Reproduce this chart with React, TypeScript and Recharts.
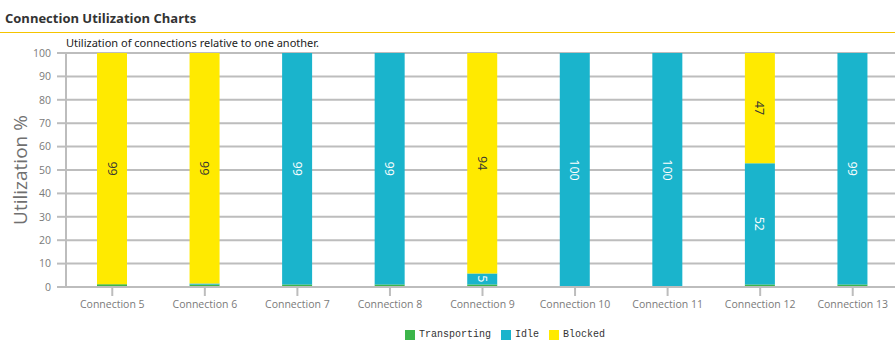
import { BarChart, Bar, XAxis, YAxis, CartesianGrid, LabelList } from "recharts";

const connections = [
  "Connection 5",
  "Connection 6",
  "Connection 7",
  "Connection 8",
  "Connection 9",
  "Connection 10",
  "Connection 11",
  "Connection 12",
  "Connection 13",
];
const transporting = [1.2, 1.0, 1.1, 1.1, 1.1, 0, 0, 1.1, 1.1];
const idle = [0, 0.5, 98.9, 98.9, 4.7, 100, 100, 51.8, 98.9];
const blocked = [98.8, 98.5, 0, 0, 94.2, 0, 0, 47.1, 0];
const yTicks = [0, 10, 20, 30, 40, 50, 60, 70, 80, 90, 100];

const data = connections.map((name, i) => ({
  name,
  transporting: transporting[i],
  idle: idle[i],
  blocked: blocked[i],
}));

const GREEN = "#3cb54a";
const TEAL = "#1ab4cc";
const YELLOW = "#ffea00";
const GRID = "#bdbdbd";
const tickStyle = { fontSize: 10.5, fill: "#7a7a7a", fontFamily: "Open Sans" };

function segmentLabel(color: string) {
  return (props: any) => {
    const { x, y, width, height, value } = props;
    if (value == null || value < 4.5) return null;
    const cx = Number(x) + Number(width) / 2;
    const cy = Number(y) + Number(height) / 2;
    return (
      <text
        x={cx}
        y={cy}
        transform={`rotate(90 ${cx} ${cy})`}
        textAnchor="middle"
        dominantBaseline="central"
        fontSize={12.5}
        fontFamily="Open Sans"
        fill={color}
      >
        {Math.round(value)}
      </text>
    );
  };
}

function YLabel(props: any) {
  const { viewBox } = props;
  const cy = viewBox.y + viewBox.height / 2;
  return (
    <text
      x={20}
      y={cy}
      transform={`rotate(-90 20 ${cy})`}
      textAnchor="middle"
      dominantBaseline="central"
      fontSize={19}
      fontFamily="Open Sans"
      fill="#707070"
    >
      Utilization %
    </text>
  );
}

const legendItems = [
  { label: "Transporting", color: GREEN },
  { label: "Idle", color: TEAL },
  { label: "Blocked", color: YELLOW },
];

export default function App() {
  return (
    <div
      style={{
        position: "absolute",
        left: 0,
        top: 0,
        width: 895,
        height: 353,
        overflow: "hidden",
        background: "#fff",
      }}
    >
      <div
        style={{
          position: "absolute",
          left: 5,
          top: 9,
          fontFamily: "Open Sans",
          fontWeight: 700,
          fontSize: 13,
          color: "#333",
        }}
      >
        Connection Utilization Charts
      </div>
      <div
        style={{
          position: "absolute",
          left: 0,
          top: 32,
          width: 895,
          height: 1,
          background: "#f5c400",
        }}
      />
      <div
        style={{
          position: "absolute",
          left: 66,
          top: 35,
          fontFamily: "Noto Sans",
          fontSize: 11,
          color: "#222",
        }}
      >
        Utilization of connections relative to one another.
      </div>

      <div style={{ position: "absolute", left: 0, top: 0 }}>
        <BarChart
          width={899}
          height={353}
          data={data}
          margin={{ top: 53, right: 0, bottom: 0, left: 0 }}
        >
          <CartesianGrid vertical={false} stroke={GRID} strokeWidth={2} />
          <XAxis
            dataKey="name"
            height={66}
            interval={0}
            tick={tickStyle}
            tickSize={9}
            tickMargin={5}
            axisLine={{ stroke: GRID, strokeWidth: 2 }}
            tickLine={{ stroke: GRID, strokeWidth: 2 }}
          />
          <YAxis
            width={66}
            domain={[0, 100]}
            ticks={yTicks}
            interval={0}
            tick={tickStyle}
            tickSize={9}
            tickMargin={6}
            axisLine={{ stroke: GRID, strokeWidth: 2 }}
            tickLine={{ stroke: GRID, strokeWidth: 2 }}
            label={<YLabel />}
          />
          <Bar dataKey="transporting" stackId="a" fill={GREEN} barSize={30} isAnimationActive={false} />
          <Bar dataKey="idle" stackId="a" fill={TEAL} barSize={30} isAnimationActive={false}>
            <LabelList dataKey="idle" content={segmentLabel("#ffffff")} />
          </Bar>
          <Bar dataKey="blocked" stackId="a" fill={YELLOW} barSize={30} isAnimationActive={false}>
            <LabelList dataKey="blocked" content={segmentLabel("#333333")} />
          </Bar>
        </BarChart>
      </div>

      <div
        style={{
          position: "absolute",
          left: 0,
          top: 329,
          width: 1020,
          display: "flex",
          justifyContent: "center",
          fontFamily: "Liberation Mono",
          fontSize: 10,
          color: "#333",
        }}
      >
        {legendItems.map((item) => (
          <div key={item.label} style={{ display: "flex", alignItems: "center", marginRight: 10 }}>
            <span
              style={{
                display: "inline-block",
                width: 10,
                height: 10,
                background: item.color,
                marginRight: 4,
              }}
            />
            <span>{item.label}</span>
          </div>
        ))}
      </div>
    </div>
  );
}
